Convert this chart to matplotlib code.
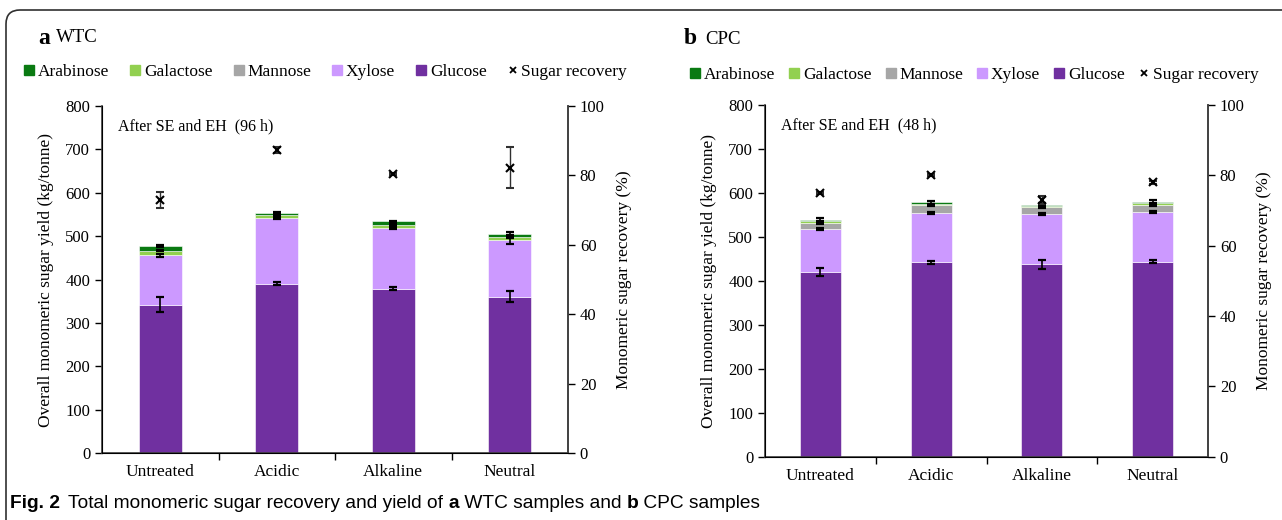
import numpy as np
import matplotlib
matplotlib.use("Agg")
import matplotlib.pyplot as plt
from matplotlib.path import Path
from matplotlib.patches import PathPatch
from matplotlib.lines import Line2D

plt.rcParams['font.family'] = ['Liberation Serif', 'DejaVu Serif']

categories = ["Untreated", "Acidic", "Alkaline", "Neutral"]
sugars = ["Glucose", "Xylose", "Mannose", "Galactose", "Arabinose"]
colors = {"Arabinose": "#0a7a12", "Galactose": "#92d050", "Mannose": "#a6a6a6",
          "Xylose": "#cc99ff", "Glucose": "#7030a0"}

# panel a: WTC (96 h)
wtc = {
    "Glucose":   [342, 391, 379, 361],
    "Xylose":    [114, 151, 139, 130],
    "Mannose":   [0, 0, 0, 0],
    "Galactose": [11, 6, 8, 7],
    "Arabinose": [10, 6, 8, 8],
}
wtc_err = {
    "Glucose":   [17, 4, 3, 13],
    "Xylose":    [3, 2, 2, 9],
    "Mannose":   [0, 0, 0, 0],
    "Galactose": [2, 2, 2, 2],
    "Arabinose": [2, 2, 2, 3],
}
wtc_rec = [73.0, 87.3, 80.3, 82.2]
wtc_rec_err = [2.3, 0.8, 0.3, 5.9]

# panel b: CPC (48 h)
cpc = {
    "Glucose":   [420, 442, 437, 443],
    "Xylose":    [97, 112, 115, 113],
    "Mannose":   [15, 17, 15, 16],
    "Galactose": [4, 4, 3, 4],
    "Arabinose": [3, 3, 3, 4],
}
cpc_err = {
    "Glucose":   [9, 3, 11, 3],
    "Xylose":    [2, 2, 2, 2],
    "Mannose":   [2, 2, 2, 2],
    "Galactose": [0, 0, 0, 0],
    "Arabinose": [3, 3, 3, 3],
}
cpc_rec = [75.0, 80.0, 72.9, 77.9]
cpc_rec_err = [0.3, 0.3, 1.2, 0.3]

fig = plt.figure(figsize=(12.82, 5.2), dpi=100)

def draw_panel(rect, data, err, rec, rec_err, note):
    ax = fig.add_axes(rect)
    x = np.arange(len(categories))
    bottom = np.zeros(len(categories))
    for s in sugars:
        vals = np.array(data[s], dtype=float)
        if vals.sum() > 0:
            ax.bar(x, vals, 0.37, bottom=bottom, color=colors[s], edgecolor="white",
                   linewidth=0.4, zorder=2)
        top = bottom + vals
        e = np.array(err[s], dtype=float)
        m = e > 0
        ax.errorbar(x[m], top[m], yerr=e[m], fmt="none", ecolor="black",
                    elinewidth=1.2, capsize=3, capthick=1.6, zorder=3)
        bottom = top
    ax.set_xlim(-0.5, len(categories) - 0.5)
    ax.set_ylim(0, 800)
    ax.set_yticks(np.arange(0, 801, 100))
    ax.set_xticks(x)
    ax.set_xticklabels(categories, fontsize=12.5)
    ax.set_xticks(np.arange(0.5, len(categories) - 0.5, 1), minor=True)
    ax.tick_params(axis="x", which="major", length=0, pad=8)
    ax.tick_params(axis="x", which="minor", length=5, direction="out", width=1)
    ax.tick_params(axis="y", labelsize=12, length=5, width=1, direction="out")
    ax.spines["top"].set_visible(False)
    for sp in ["left", "bottom", "right"]:
        ax.spines[sp].set_color("#404040")
        ax.spines[sp].set_linewidth(1.2)
    ax.set_ylabel("Overall monomeric sugar yield (kg/tonne)", fontsize=12.5, labelpad=8)
    ax.text(0.035, 0.965, note, transform=ax.transAxes, fontsize=11.5, va="top")

    ax2 = ax.twinx()
    ax2.set_ylim(0, 100)
    ax2.set_yticks(np.arange(0, 101, 20))
    ax2.tick_params(axis="y", labelsize=12, length=5, width=1, direction="out")
    ax2.spines["top"].set_visible(False)
    ax2.spines["right"].set_color("#404040")
    ax2.spines["right"].set_linewidth(1.2)
    ax2.errorbar(x, rec, yerr=rec_err, fmt="x", color="black", ms=6, mew=1.5,
                 ecolor="#303030", elinewidth=1, capsize=3, zorder=4)
    ax2.set_ylabel("Monomeric sugar recovery (%)", fontsize=12.5, labelpad=8)
    return ax

draw_panel([102 / 1282, 1 - 453.3 / 520, 466 / 1282, 347.3 / 520],
           wtc, wtc_err, wtc_rec, wtc_rec_err, "After SE and EH  (96 h)")
draw_panel([765 / 1282, 1 - 456.7 / 520, 443 / 1282, 352 / 520],
           cpc, cpc_err, cpc_rec, cpc_rec_err, "After SE and EH  (48 h)")

# panel titles
fig.text(38 / 1282, 1 - 38 / 520, "a", fontsize=17, fontweight="bold", va="center")
fig.text(56 / 1282, 1 - 38 / 520, "WTC", fontsize=13.5, va="center")
fig.text(684 / 1282, 1 - 38 / 520, "b", fontsize=17, fontweight="bold", va="center")
fig.text(705 / 1282, 1 - 39 / 520, "CPC", fontsize=13.5, va="center")

# legends
leg_order = ["Arabinose", "Galactose", "Mannose", "Xylose", "Glucose"]
handles = [Line2D([], [], marker="s", ls="none", color=colors[s], ms=7) for s in leg_order]
handles.append(Line2D([], [], marker="x", ls="none", color="black", ms=5, mew=1.3))
labels = leg_order + ["Sugar recovery"]
for x0, y0, cs in [(24, 72, 1.2), (690, 75, 0.8)]:
    fig.legend(handles, labels, loc="center left", ncol=6, frameon=False,
               bbox_to_anchor=(x0 / 1282, 1 - y0 / 520), fontsize=12.5,
               handlelength=0.6, handletextpad=0.2, columnspacing=cs,
               borderaxespad=0, borderpad=0)

# caption, built piece by piece
r = fig.canvas.get_renderer()
cap_font = ["Liberation Sans Narrow", "Liberation Sans"]
pieces = [("Fig. 2", "bold", 10), ("Total monomeric sugar recovery and yield of ", "normal", 8),
          ("a", "bold", 0), (" WTC samples and ", "normal", 0), ("b", "bold", 0),
          (" CPC samples", "normal", 0)]
xpos = 0
for txt, w, gap in pieces:
    xpos += gap
    t = fig.text(xpos / 1282, 1 - 503 / 520, txt, fontsize=13.8, fontweight=w,
                 family=cap_font, va="center")
    xpos += t.get_window_extent(renderer=r).width

# rounded frame around the figure
W, H = 1282, 520
rad = 14
x0, ytop = 6, 10
verts = [(x0, H + 10), (x0, ytop + rad), (x0, ytop), (x0 + rad, ytop), (W + 10, ytop)]
codes = [Path.MOVETO, Path.LINETO, Path.CURVE3, Path.CURVE3, Path.LINETO]
verts = [(vx / W, 1 - vy / H) for vx, vy in verts]
fig.patches.append(PathPatch(Path(verts, codes), transform=fig.transFigure,
                             fill=False, edgecolor="#303030", lw=1.2))

fig.savefig("out.png", dpi=100)
